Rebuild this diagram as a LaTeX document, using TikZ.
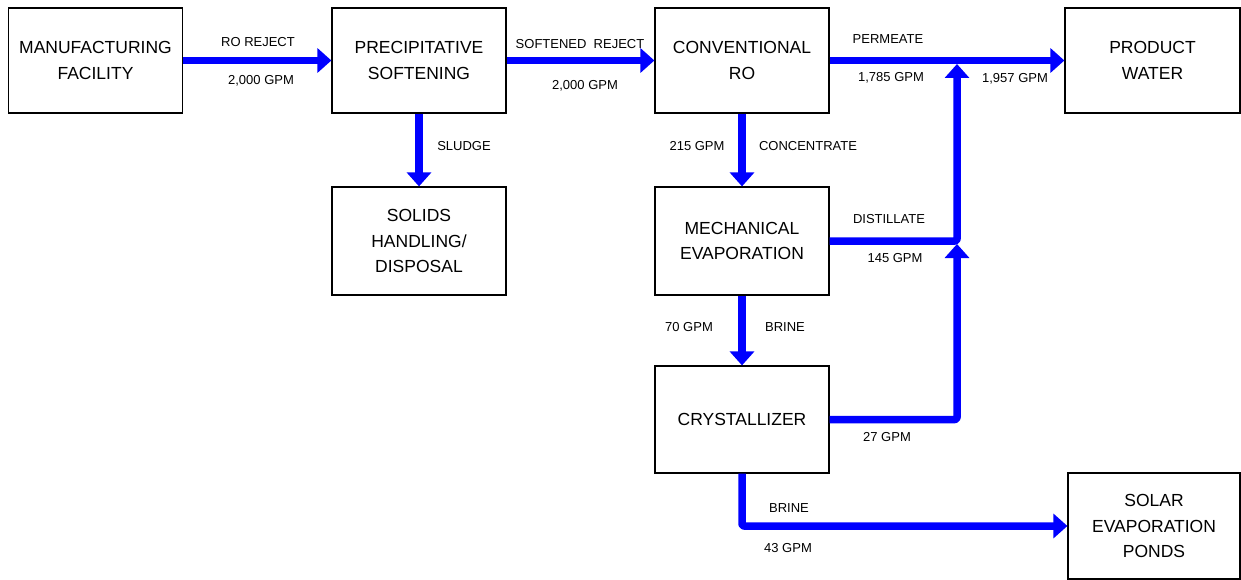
\documentclass[tikz,border=0pt]{standalone}
\usepackage{fontspec}
\setmainfont{Liberation Sans}
\usetikzlibrary{arrows.meta}

\tikzset{
  unit/.style={draw, line width=1.2pt, minimum width=174pt, minimum height=105pt,
    align=center, inner sep=0pt, font=\fontsize{17.5}{25.5}\selectfont},
  flow/.style={draw=blue, line width=7.5pt, line join=round, rounded corners=2pt,
    -{Triangle[width=24pt,length=14pt]}},
  tag/.style={inner sep=0pt, font=\fontsize{13}{15}\selectfont}
}

\begin{document}
\begin{tikzpicture}[x=1pt, y=-1pt]

    \useasboundingbox (0,0) rectangle (1241,580);

    % 1. Unidades de proceso
    \node[unit] (mfg)    at (95.5,60.5) {MANUFACTURING\\FACILITY};
    \node[unit] (soft)   at (419,60.5)  {PRECIPITATIVE\\SOFTENING};
    \node[unit] (ro)     at (742,60.5)  {CONVENTIONAL\\RO};
    \node[unit, minimum width=175pt] (prod) at (1152.5,60.5) {PRODUCT\\WATER};
    \node[unit, minimum height=108pt] (solids) at (419,241) {SOLIDS\\HANDLING/\\DISPOSAL};
    \node[unit, minimum height=108pt] (mevap)  at (742,241) {MECHANICAL\\EVAPORATION};
    \node[unit, minimum height=107pt] (cryst)  at (742,419.5) {CRYSTALLIZER};
    \node[unit, minimum width=172pt, minimum height=106pt] (solar) at (1154,526) {SOLAR\\EVAPORATION\\PONDS};

    % Puntos de union sobre las lineas de permeado y destilado
    \coordinate (j1) at (957,64);
    \coordinate (j2) at (957,244);

    % 2. Linea principal
    \draw[flow] (mfg) -- (soft);
    \draw[flow] (soft) -- (ro);
    \draw[flow] (ro) -- (prod);

    % 3. Salidas hacia abajo
    \draw[flow] (soft) -- (solids);
    \draw[flow] (ro) -- (mevap);
    \draw[flow] (mevap) -- (cryst);
    \draw[flow] (cryst.south) |- (solar.west);

    % 4. Retornos de agua recuperada
    \draw[flow] (mevap.east) -| (j1);
    \draw[flow] (cryst.east) -| (j2);

    % 5. Etiquetas de caudal
    \node[tag] (t1)  at (258,42)  {RO REJECT};
    \node[tag] (t2)  at (261,81)  {2,000 GPM};
    \node[tag] (t3)  at (580,44)  {SOFTENED\ \ REJECT};
    \node[tag] (t4)  at (585,86)  {2,000 GPM};
    \node[tag] (t5)  at (888,39)  {PERMEATE};
    \node[tag] (t6)  at (891,78)  {1,785 GPM};
    \node[tag] (t7)  at (1015,79) {1,957 GPM};
    \node[tag] (t8)  at (464,146) {SLUDGE};
    \node[tag] (t9)  at (697,146) {215 GPM};
    \node[tag] (t10) at (808,146) {CONCENTRATE};
    \node[tag] (t11) at (889,219) {DISTILLATE};
    \node[tag] (t12) at (895,258) {145 GPM};
    \node[tag] (t13) at (689,327) {70 GPM};
    \node[tag] (t14) at (785,327) {BRINE};
    \node[tag] (t15) at (887,437) {27 GPM};
    \node[tag] (t16) at (789,508) {BRINE};
    \node[tag] (t17) at (788,548) {43 GPM};

\end{tikzpicture}
\end{document}
